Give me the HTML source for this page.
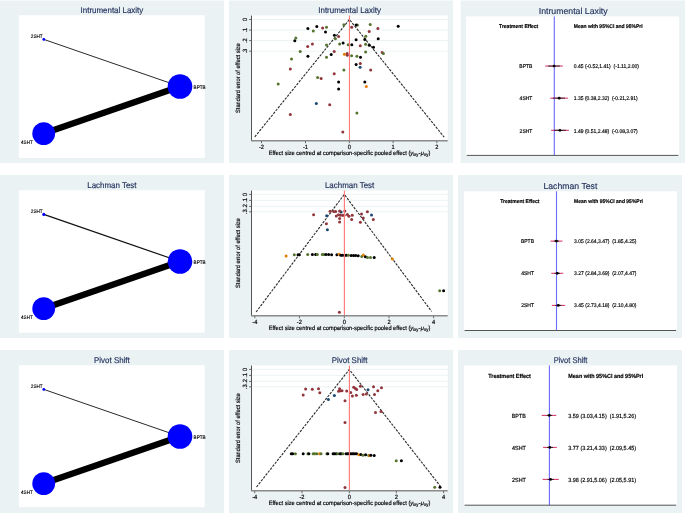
<!DOCTYPE html><html><head><meta charset="utf-8"><style>html,body{margin:0;padding:0;background:#fff;}svg{display:block;}svg{will-change:transform;}text{text-rendering:geometricPrecision;}text{font-family:"Liberation Sans",sans-serif;}</style></head><body>
<svg width="685" height="513" viewBox="0 0 685 513">
<rect width="685" height="513" fill="#fff"/>
<rect x="0" y="0.5" width="224" height="162.5" fill="#eaf2f3"/>
<rect x="18.9" y="15.2" width="185.8" height="142.8" fill="#fff"/>
<text transform="translate(111.9 12.9) scale(1 1.05)" font-size="7.95" text-anchor="middle" fill="#25335f" stroke="#25335f" stroke-width="0.15">Intrumental Laxity</text>
<line x1="43.8" y1="39.4" x2="180" y2="86.5" stroke="#111" stroke-width="0.9"/>
<line x1="43.7" y1="133.6" x2="180" y2="86.5" stroke="#000" stroke-width="6.3"/>
<circle cx="180" cy="86.5" r="12.3" fill="#0000ff"/>
<circle cx="43.7" cy="133.6" r="11.4" fill="#0000ff"/>
<circle cx="43.8" cy="39.4" r="1.4" fill="#0000ff"/>
<text transform="translate(42.6 37.8) scale(1 1.08)" font-size="4.6" text-anchor="end" fill="#000" stroke="#000" stroke-width="0.13">2SHT</text>
<text transform="translate(193.6 88.6) scale(1 1.08)" font-size="4.6" fill="#000" stroke="#000" stroke-width="0.13">BPTB</text>
<text transform="translate(32.8 143.7) scale(1 1.08)" font-size="4.6" text-anchor="end" fill="#000" stroke="#000" stroke-width="0.13">4SHT</text>
<rect x="0" y="175" width="224" height="163" fill="#eaf2f3"/>
<rect x="18.9" y="190.2" width="185.8" height="142.5" fill="#fff"/>
<text transform="translate(111.9 187.9) scale(1 1.05)" font-size="7.95" text-anchor="middle" fill="#25335f" stroke="#25335f" stroke-width="0.15">Lachman Test</text>
<line x1="43.8" y1="214.4" x2="180" y2="261.5" stroke="#111" stroke-width="1.2"/>
<line x1="43.7" y1="308.6" x2="180" y2="261.5" stroke="#000" stroke-width="6.3"/>
<circle cx="180" cy="261.5" r="12.3" fill="#0000ff"/>
<circle cx="43.7" cy="308.6" r="11.4" fill="#0000ff"/>
<circle cx="43.8" cy="214.4" r="1.55" fill="#0000ff"/>
<text transform="translate(42.6 212.8) scale(1 1.08)" font-size="4.6" text-anchor="end" fill="#000" stroke="#000" stroke-width="0.13">2SHT</text>
<text transform="translate(193.6 263.6) scale(1 1.08)" font-size="4.6" fill="#000" stroke="#000" stroke-width="0.13">BPTB</text>
<text transform="translate(32.8 318.7) scale(1 1.08)" font-size="4.6" text-anchor="end" fill="#000" stroke="#000" stroke-width="0.13">4SHT</text>
<rect x="0" y="350" width="224" height="163" fill="#eaf2f3"/>
<rect x="18.9" y="365.2" width="185.8" height="142.0" fill="#fff"/>
<text transform="translate(111.9 362.9) scale(1 1.05)" font-size="7.95" text-anchor="middle" fill="#25335f" stroke="#25335f" stroke-width="0.15">Pivot Shift</text>
<line x1="43.8" y1="389.4" x2="180" y2="436.5" stroke="#111" stroke-width="0.9"/>
<line x1="43.7" y1="483.6" x2="180" y2="436.5" stroke="#000" stroke-width="6.3"/>
<circle cx="180" cy="436.5" r="12.3" fill="#0000ff"/>
<circle cx="43.7" cy="483.6" r="11.4" fill="#0000ff"/>
<circle cx="43.8" cy="389.4" r="1.4" fill="#0000ff"/>
<text transform="translate(42.6 387.8) scale(1 1.08)" font-size="4.6" text-anchor="end" fill="#000" stroke="#000" stroke-width="0.13">2SHT</text>
<text transform="translate(193.6 438.6) scale(1 1.08)" font-size="4.6" fill="#000" stroke="#000" stroke-width="0.13">BPTB</text>
<text transform="translate(32.8 493.7) scale(1 1.08)" font-size="4.6" text-anchor="end" fill="#000" stroke="#000" stroke-width="0.13">4SHT</text>
<rect x="229" y="0.5" width="224" height="162.5" fill="#eaf2f3"/>
<rect x="251.5" y="15.4" width="196.2" height="125.1" fill="#fff"/>
<text transform="translate(349.6 12.9) scale(1 1.05)" font-size="7.95" text-anchor="middle" fill="#25335f" stroke="#25335f" stroke-width="0.15">Intrumental Laxity</text>
<line x1="252" y1="19.5" x2="447.7" y2="19.5" stroke="#eaf2f3" stroke-width="0.9"/>
<line x1="252" y1="30.1" x2="447.7" y2="30.1" stroke="#eaf2f3" stroke-width="0.9"/>
<line x1="252" y1="40.6" x2="447.7" y2="40.6" stroke="#eaf2f3" stroke-width="0.9"/>
<line x1="252" y1="51.2" x2="447.7" y2="51.2" stroke="#eaf2f3" stroke-width="0.9"/>
<polyline points="254.8,136.9 349.4,19.5 444.2,137.2" fill="none" stroke="#2a2a2a" stroke-width="1.1" stroke-dasharray="2.5 1.2"/>
<circle cx="307.9" cy="28.4" r="1.5" fill="#000000"/>
<circle cx="316.8" cy="26.6" r="1.5" fill="#000000"/>
<circle cx="322.6" cy="27.9" r="1.5" fill="#90353b"/>
<circle cx="326.5" cy="27.3" r="1.5" fill="#55752f"/>
<circle cx="313.3" cy="31.1" r="1.5" fill="#55752f"/>
<circle cx="325.5" cy="32.0" r="1.5" fill="#000000"/>
<circle cx="343.9" cy="24.8" r="1.5" fill="#55752f"/>
<circle cx="351.7" cy="27.3" r="1.5" fill="#90353b"/>
<circle cx="295.8" cy="38.0" r="1.5" fill="#55752f"/>
<circle cx="294.8" cy="40.8" r="1.5" fill="#000000"/>
<circle cx="334.4" cy="35.2" r="1.5" fill="#000000"/>
<circle cx="338.6" cy="36.5" r="1.5" fill="#90353b"/>
<circle cx="335.4" cy="38.8" r="1.5" fill="#55752f"/>
<circle cx="312.4" cy="44.0" r="1.5" fill="#90353b"/>
<circle cx="307.7" cy="46.5" r="1.5" fill="#90353b"/>
<circle cx="326.5" cy="44.9" r="1.5" fill="#55752f"/>
<circle cx="343.1" cy="42.9" r="1.5" fill="#000000"/>
<circle cx="339.6" cy="44.0" r="1.5" fill="#55752f"/>
<circle cx="348.2" cy="44.7" r="1.5" fill="#55752f"/>
<circle cx="351.8" cy="44.7" r="1.5" fill="#000000"/>
<circle cx="300.2" cy="51.4" r="1.5" fill="#55752f"/>
<circle cx="334.2" cy="51.6" r="1.5" fill="#90353b"/>
<circle cx="307.9" cy="56.3" r="1.5" fill="#000000"/>
<circle cx="331.2" cy="54.4" r="1.5" fill="#000000"/>
<circle cx="326.5" cy="57.2" r="1.5" fill="#55752f"/>
<circle cx="344.4" cy="54.3" r="1.5" fill="#e37e00"/>
<circle cx="347.2" cy="53.5" r="1.5" fill="#90353b"/>
<circle cx="347.3" cy="55.3" r="1.5" fill="#90353b"/>
<circle cx="351.6" cy="55.7" r="1.5" fill="#55752f"/>
<circle cx="291.5" cy="59.1" r="1.5" fill="#55752f"/>
<circle cx="290.3" cy="69.0" r="1.5" fill="#90353b"/>
<circle cx="343.9" cy="70.1" r="1.5" fill="#55752f"/>
<circle cx="334.2" cy="73.7" r="1.5" fill="#90353b"/>
<circle cx="317.6" cy="77.4" r="1.5" fill="#55752f"/>
<circle cx="321.1" cy="78.4" r="1.5" fill="#90353b"/>
<circle cx="338.6" cy="81.9" r="1.5" fill="#000000"/>
<circle cx="338.6" cy="88.9" r="1.5" fill="#000000"/>
<circle cx="278.2" cy="84.1" r="1.5" fill="#55752f"/>
<circle cx="357.4" cy="24.9" r="1.5" fill="#55752f"/>
<circle cx="356.1" cy="24.9" r="1.5" fill="#000000"/>
<circle cx="370.2" cy="24.6" r="1.5" fill="#55752f"/>
<circle cx="377.9" cy="28.4" r="1.5" fill="#90353b"/>
<circle cx="398.2" cy="26.3" r="1.5" fill="#000000"/>
<circle cx="369.2" cy="31.5" r="1.5" fill="#90353b"/>
<circle cx="365.8" cy="36.3" r="1.5" fill="#55752f"/>
<circle cx="356.1" cy="39.7" r="1.5" fill="#000000"/>
<circle cx="364.8" cy="39.5" r="1.5" fill="#000000"/>
<circle cx="378.2" cy="38.7" r="1.5" fill="#000000"/>
<circle cx="360.3" cy="45.7" r="1.5" fill="#90353b"/>
<circle cx="365.6" cy="44.2" r="1.5" fill="#55752f"/>
<circle cx="369.3" cy="45.2" r="1.5" fill="#000000"/>
<circle cx="373.5" cy="47.2" r="1.5" fill="#000000"/>
<circle cx="365.6" cy="52.1" r="1.5" fill="#55752f"/>
<circle cx="382.2" cy="52.6" r="1.5" fill="#90353b"/>
<circle cx="383.4" cy="53.6" r="1.5" fill="#55752f"/>
<circle cx="356.9" cy="56.3" r="1.5" fill="#55752f"/>
<circle cx="360.5" cy="57.3" r="1.5" fill="#000000"/>
<circle cx="356.1" cy="64.5" r="1.5" fill="#000000"/>
<circle cx="360.3" cy="63.5" r="1.5" fill="#90353b"/>
<circle cx="360.1" cy="67.3" r="1.5" fill="#1a476f"/>
<circle cx="370.7" cy="70.0" r="1.5" fill="#90353b"/>
<circle cx="364.8" cy="81.9" r="1.5" fill="#000000"/>
<circle cx="366.3" cy="86.4" r="1.5" fill="#e37e00"/>
<circle cx="316.3" cy="103.5" r="1.5" fill="#1a476f"/>
<circle cx="329.7" cy="104.8" r="1.5" fill="#90353b"/>
<circle cx="290.3" cy="114.5" r="1.5" fill="#90353b"/>
<circle cx="342.8" cy="132.0" r="1.5" fill="#90353b"/>
<circle cx="356.9" cy="112.9" r="1.5" fill="#55752f"/>
<line x1="349.45" y1="15.5" x2="349.45" y2="140.3" stroke="#ff7a7a" stroke-width="1.15"/>
<line x1="251.5" y1="15.6" x2="251.5" y2="141" stroke="#555" stroke-width="1"/>
<line x1="251" y1="140.7" x2="447.7" y2="140.7" stroke="#8a8a8a" stroke-width="1.4"/>
<line x1="249.2" y1="19.5" x2="251.5" y2="19.5" stroke="#555" stroke-width="0.9"/>
<text transform="translate(246.5 19.5) rotate(-90) scale(1 1.08)" font-size="5.7" text-anchor="middle" fill="#000" stroke="#000" stroke-width="0.16">0</text>
<line x1="249.2" y1="30.1" x2="251.5" y2="30.1" stroke="#555" stroke-width="0.9"/>
<text transform="translate(246.5 30.1) rotate(-90) scale(1 1.08)" font-size="5.7" text-anchor="middle" fill="#000" stroke="#000" stroke-width="0.16">.1</text>
<line x1="249.2" y1="40.6" x2="251.5" y2="40.6" stroke="#555" stroke-width="0.9"/>
<text transform="translate(246.5 40.6) rotate(-90) scale(1 1.08)" font-size="5.7" text-anchor="middle" fill="#000" stroke="#000" stroke-width="0.16">.2</text>
<line x1="249.2" y1="51.2" x2="251.5" y2="51.2" stroke="#555" stroke-width="0.9"/>
<text transform="translate(246.5 51.2) rotate(-90) scale(1 1.08)" font-size="5.7" text-anchor="middle" fill="#000" stroke="#000" stroke-width="0.16">.3</text>
<line x1="261.5" y1="141.2" x2="261.5" y2="143.2" stroke="#555" stroke-width="0.9"/>
<text transform="translate(261.5 148.7) scale(1 1.08)" font-size="5.7" text-anchor="middle" fill="#000" stroke="#000" stroke-width="0.16">-2</text>
<line x1="305.5" y1="141.2" x2="305.5" y2="143.2" stroke="#555" stroke-width="0.9"/>
<text transform="translate(305.5 148.7) scale(1 1.08)" font-size="5.7" text-anchor="middle" fill="#000" stroke="#000" stroke-width="0.16">-1</text>
<line x1="349.3" y1="141.2" x2="349.3" y2="143.2" stroke="#555" stroke-width="0.9"/>
<text transform="translate(349.3 148.7) scale(1 1.08)" font-size="5.7" text-anchor="middle" fill="#000" stroke="#000" stroke-width="0.16">0</text>
<line x1="393.1" y1="141.2" x2="393.1" y2="143.2" stroke="#555" stroke-width="0.9"/>
<text transform="translate(393.1 148.7) scale(1 1.08)" font-size="5.7" text-anchor="middle" fill="#000" stroke="#000" stroke-width="0.16">1</text>
<line x1="436.8" y1="141.2" x2="436.8" y2="143.2" stroke="#555" stroke-width="0.9"/>
<text transform="translate(436.8 148.7) scale(1 1.08)" font-size="5.7" text-anchor="middle" fill="#000" stroke="#000" stroke-width="0.16">2</text>
<text transform="translate(240.1 78.1) rotate(-90) scale(1 1.08)" font-size="5.67" text-anchor="middle" fill="#000" stroke="#000" stroke-width="0.16">Standard error of effect size</text>
<text transform="translate(268.7 154.8) scale(1 1.08)" font-size="5.67" fill="#000" stroke="#000" stroke-width="0.16">Effect size centred at comparison-specific pooled effect (<tspan font-style="italic">y</tspan><tspan font-size="4.3" dy="1.1">ixy</tspan><tspan dy="-1.1" dx="0.3">-</tspan><tspan font-style="italic" dx="0.3">&#956;</tspan><tspan font-size="4.3" dy="1.1">xy</tspan><tspan dy="-1.1" dx="0.3">)</tspan></text>
<rect x="229" y="175" width="224" height="163" fill="#eaf2f3"/>
<rect x="251.5" y="190.4" width="196.2" height="125.1" fill="#fff"/>
<text transform="translate(349.6 187.9) scale(1 1.05)" font-size="7.95" text-anchor="middle" fill="#25335f" stroke="#25335f" stroke-width="0.15">Lachman Test</text>
<line x1="252" y1="194.4" x2="447.7" y2="194.4" stroke="#eaf2f3" stroke-width="0.9"/>
<line x1="252" y1="200.4" x2="447.7" y2="200.4" stroke="#eaf2f3" stroke-width="0.9"/>
<line x1="252" y1="206.4" x2="447.7" y2="206.4" stroke="#eaf2f3" stroke-width="0.9"/>
<line x1="252" y1="211.8" x2="447.7" y2="211.8" stroke="#eaf2f3" stroke-width="0.9"/>
<polyline points="256.1,312.0 344.3,194.4 431.6,311.4" fill="none" stroke="#2a2a2a" stroke-width="1.1" stroke-dasharray="2.5 1.2"/>
<circle cx="341.1" cy="211.9" r="1.5" fill="#1a476f"/>
<circle cx="313.6" cy="214.8" r="1.5" fill="#90353b"/>
<circle cx="326.4" cy="223.7" r="1.5" fill="#90353b"/>
<circle cx="330.1" cy="211.3" r="1.5" fill="#90353b"/>
<circle cx="333.6" cy="211.5" r="1.5" fill="#90353b"/>
<circle cx="335.6" cy="211.5" r="1.5" fill="#90353b"/>
<circle cx="339.6" cy="211.1" r="1.5" fill="#90353b"/>
<circle cx="344.8" cy="211" r="1.5" fill="#90353b"/>
<circle cx="336.3" cy="215.9" r="1.5" fill="#90353b"/>
<circle cx="338.5" cy="214.8" r="1.5" fill="#90353b"/>
<circle cx="340.4" cy="215.2" r="1.5" fill="#90353b"/>
<circle cx="342.6" cy="215.2" r="1.5" fill="#90353b"/>
<circle cx="344.1" cy="215.2" r="1.5" fill="#90353b"/>
<circle cx="347.4" cy="214.5" r="1.5" fill="#90353b"/>
<circle cx="348.9" cy="216.3" r="1.5" fill="#90353b"/>
<circle cx="339.6" cy="218.5" r="1.5" fill="#90353b"/>
<circle cx="339.6" cy="221.9" r="1.5" fill="#90353b"/>
<circle cx="352.2" cy="215.3" r="1.5" fill="#90353b"/>
<circle cx="351.7" cy="219.6" r="1.5" fill="#90353b"/>
<circle cx="361.5" cy="214.1" r="1.5" fill="#90353b"/>
<circle cx="363.3" cy="218.1" r="1.5" fill="#90353b"/>
<circle cx="360.4" cy="222.2" r="1.5" fill="#90353b"/>
<circle cx="367.4" cy="211.7" r="1.5" fill="#90353b"/>
<circle cx="373.3" cy="219.6" r="1.5" fill="#90353b"/>
<circle cx="339.4" cy="312.2" r="1.5" fill="#90353b"/>
<circle cx="326.7" cy="215.7" r="1.5" fill="#1a476f"/>
<circle cx="327.4" cy="229.8" r="1.5" fill="#1a476f"/>
<circle cx="371.5" cy="215" r="1.5" fill="#1a476f"/>
<circle cx="286.1" cy="255.9" r="1.5" fill="#e37e00"/>
<circle cx="294.3" cy="254.7" r="1.5" fill="#55752f"/>
<circle cx="298" cy="254.7" r="1.5" fill="#000000"/>
<circle cx="299.4" cy="254.7" r="1.5" fill="#000000"/>
<circle cx="307.7" cy="254.4" r="1.5" fill="#55752f"/>
<circle cx="312.4" cy="254.4" r="1.5" fill="#000000"/>
<circle cx="315.6" cy="254.4" r="1.5" fill="#000000"/>
<circle cx="317.3" cy="254.4" r="1.5" fill="#55752f"/>
<circle cx="322.3" cy="254.6" r="1.5" fill="#55752f"/>
<circle cx="323.8" cy="254.6" r="1.5" fill="#55752f"/>
<circle cx="325.9" cy="254.6" r="1.5" fill="#000000"/>
<circle cx="328.6" cy="254.6" r="1.5" fill="#000000"/>
<circle cx="331.6" cy="254.7" r="1.5" fill="#000000"/>
<circle cx="336.9" cy="254.8" r="1.5" fill="#000000"/>
<circle cx="339.3" cy="254.3" r="1.5" fill="#e37e00"/>
<circle cx="340.8" cy="255.2" r="1.5" fill="#000000"/>
<circle cx="342.5" cy="255.2" r="1.5" fill="#000000"/>
<circle cx="344.6" cy="255.2" r="1.5" fill="#000000"/>
<circle cx="346.3" cy="255.3" r="1.5" fill="#000000"/>
<circle cx="348.4" cy="255.3" r="1.5" fill="#55752f"/>
<circle cx="351.2" cy="255.4" r="1.5" fill="#000000"/>
<circle cx="353.5" cy="255.5" r="1.5" fill="#000000"/>
<circle cx="355.6" cy="255.6" r="1.5" fill="#000000"/>
<circle cx="358.2" cy="255.7" r="1.5" fill="#000000"/>
<circle cx="361.8" cy="256.6" r="1.5" fill="#55752f"/>
<circle cx="363.4" cy="255.1" r="1.5" fill="#e37e00"/>
<circle cx="365.4" cy="256.8" r="1.5" fill="#000000"/>
<circle cx="367.5" cy="257.4" r="1.5" fill="#55752f"/>
<circle cx="370.5" cy="257.6" r="1.5" fill="#55752f"/>
<circle cx="374.2" cy="257.6" r="1.5" fill="#000000"/>
<circle cx="392.4" cy="258.9" r="1.5" fill="#e37e00"/>
<circle cx="439.7" cy="290.7" r="1.5" fill="#55752f"/>
<circle cx="443.6" cy="290.7" r="1.5" fill="#000000"/>
<line x1="344.4" y1="190.5" x2="344.4" y2="315.3" stroke="#ff7a7a" stroke-width="1.15"/>
<line x1="251.5" y1="190.6" x2="251.5" y2="316" stroke="#555" stroke-width="1"/>
<line x1="251" y1="315.7" x2="447.7" y2="315.7" stroke="#8a8a8a" stroke-width="1.4"/>
<line x1="249.2" y1="194.4" x2="251.5" y2="194.4" stroke="#555" stroke-width="0.9"/>
<text transform="translate(246.5 194.4) rotate(-90) scale(1 1.08)" font-size="5.7" text-anchor="middle" fill="#000" stroke="#000" stroke-width="0.16">0</text>
<line x1="249.2" y1="200.4" x2="251.5" y2="200.4" stroke="#555" stroke-width="0.9"/>
<text transform="translate(246.5 200.4) rotate(-90) scale(1 1.08)" font-size="5.7" text-anchor="middle" fill="#000" stroke="#000" stroke-width="0.16">.1</text>
<line x1="249.2" y1="206.4" x2="251.5" y2="206.4" stroke="#555" stroke-width="0.9"/>
<text transform="translate(246.5 206.4) rotate(-90) scale(1 1.08)" font-size="5.7" text-anchor="middle" fill="#000" stroke="#000" stroke-width="0.16">.2</text>
<line x1="249.2" y1="211.8" x2="251.5" y2="211.8" stroke="#555" stroke-width="0.9"/>
<text transform="translate(246.5 211.8) rotate(-90) scale(1 1.08)" font-size="5.7" text-anchor="middle" fill="#000" stroke="#000" stroke-width="0.16">.3</text>
<line x1="254.8" y1="316.2" x2="254.8" y2="318.2" stroke="#555" stroke-width="0.9"/>
<text transform="translate(254.8 323.7) scale(1 1.08)" font-size="5.7" text-anchor="middle" fill="#000" stroke="#000" stroke-width="0.16">-4</text>
<line x1="299.4" y1="316.2" x2="299.4" y2="318.2" stroke="#555" stroke-width="0.9"/>
<text transform="translate(299.4 323.7) scale(1 1.08)" font-size="5.7" text-anchor="middle" fill="#000" stroke="#000" stroke-width="0.16">-2</text>
<line x1="344.3" y1="316.2" x2="344.3" y2="318.2" stroke="#555" stroke-width="0.9"/>
<text transform="translate(344.3 323.7) scale(1 1.08)" font-size="5.7" text-anchor="middle" fill="#000" stroke="#000" stroke-width="0.16">0</text>
<line x1="389.0" y1="316.2" x2="389.0" y2="318.2" stroke="#555" stroke-width="0.9"/>
<text transform="translate(389.0 323.7) scale(1 1.08)" font-size="5.7" text-anchor="middle" fill="#000" stroke="#000" stroke-width="0.16">2</text>
<line x1="433.6" y1="316.2" x2="433.6" y2="318.2" stroke="#555" stroke-width="0.9"/>
<text transform="translate(433.6 323.7) scale(1 1.08)" font-size="5.7" text-anchor="middle" fill="#000" stroke="#000" stroke-width="0.16">4</text>
<text transform="translate(240.1 253.1) rotate(-90) scale(1 1.08)" font-size="5.67" text-anchor="middle" fill="#000" stroke="#000" stroke-width="0.16">Standard error of effect size</text>
<text transform="translate(268.7 329.8) scale(1 1.08)" font-size="5.67" fill="#000" stroke="#000" stroke-width="0.16">Effect size centred at comparison-specific pooled effect (<tspan font-style="italic">y</tspan><tspan font-size="4.3" dy="1.1">ixy</tspan><tspan dy="-1.1" dx="0.3">-</tspan><tspan font-style="italic" dx="0.3">&#956;</tspan><tspan font-size="4.3" dy="1.1">xy</tspan><tspan dy="-1.1" dx="0.3">)</tspan></text>
<rect x="229" y="350" width="224" height="163" fill="#eaf2f3"/>
<rect x="251.5" y="365.4" width="196.2" height="125.1" fill="#fff"/>
<text transform="translate(349.6 362.9) scale(1 1.05)" font-size="7.95" text-anchor="middle" fill="#25335f" stroke="#25335f" stroke-width="0.15">Pivot Shift</text>
<line x1="252" y1="369.4" x2="447.7" y2="369.4" stroke="#eaf2f3" stroke-width="0.9"/>
<line x1="252" y1="375.4" x2="447.7" y2="375.4" stroke="#eaf2f3" stroke-width="0.9"/>
<line x1="252" y1="381.4" x2="447.7" y2="381.4" stroke="#eaf2f3" stroke-width="0.9"/>
<line x1="252" y1="386.8" x2="447.7" y2="386.8" stroke="#eaf2f3" stroke-width="0.9"/>
<polyline points="256.5,487.0 349.3,369.5 440.2,486.0" fill="none" stroke="#2a2a2a" stroke-width="1.1" stroke-dasharray="2.5 1.2"/>
<circle cx="305.6" cy="389" r="1.5" fill="#90353b"/>
<circle cx="312.3" cy="389.3" r="1.5" fill="#90353b"/>
<circle cx="318.5" cy="388.8" r="1.5" fill="#90353b"/>
<circle cx="319.8" cy="392.7" r="1.5" fill="#90353b"/>
<circle cx="303.2" cy="394.9" r="1.5" fill="#90353b"/>
<circle cx="339.6" cy="388.8" r="1.5" fill="#90353b"/>
<circle cx="338.6" cy="391.2" r="1.5" fill="#90353b"/>
<circle cx="340.3" cy="390.7" r="1.5" fill="#90353b"/>
<circle cx="342" cy="390.7" r="1.5" fill="#90353b"/>
<circle cx="346.7" cy="391" r="1.5" fill="#90353b"/>
<circle cx="350.7" cy="392.4" r="1.5" fill="#90353b"/>
<circle cx="353.7" cy="387.2" r="1.5" fill="#90353b"/>
<circle cx="355.4" cy="388.5" r="1.5" fill="#90353b"/>
<circle cx="356.7" cy="389.5" r="1.5" fill="#90353b"/>
<circle cx="360.4" cy="386.3" r="1.5" fill="#90353b"/>
<circle cx="352.4" cy="396" r="1.5" fill="#90353b"/>
<circle cx="356.4" cy="395.2" r="1.5" fill="#90353b"/>
<circle cx="363.1" cy="394.4" r="1.5" fill="#90353b"/>
<circle cx="366.4" cy="394" r="1.5" fill="#90353b"/>
<circle cx="345" cy="400.7" r="1.5" fill="#90353b"/>
<circle cx="373.5" cy="386.8" r="1.5" fill="#90353b"/>
<circle cx="377.8" cy="390.8" r="1.5" fill="#90353b"/>
<circle cx="381.5" cy="387.7" r="1.5" fill="#90353b"/>
<circle cx="374.5" cy="394.4" r="1.5" fill="#90353b"/>
<circle cx="375.5" cy="412.5" r="1.5" fill="#90353b"/>
<circle cx="381" cy="411.5" r="1.5" fill="#90353b"/>
<circle cx="345" cy="422.5" r="1.5" fill="#90353b"/>
<circle cx="345" cy="487.4" r="1.5" fill="#90353b"/>
<circle cx="328.4" cy="399.4" r="1.5" fill="#1a476f"/>
<circle cx="334.4" cy="395.4" r="1.5" fill="#1a476f"/>
<circle cx="368" cy="389.8" r="1.5" fill="#1a476f"/>
<circle cx="291.3" cy="453.8" r="1.5" fill="#000000"/>
<circle cx="292.7" cy="453.8" r="1.5" fill="#000000"/>
<circle cx="295.4" cy="453.8" r="1.5" fill="#55752f"/>
<circle cx="303.2" cy="453.8" r="1.5" fill="#000000"/>
<circle cx="307.9" cy="453.8" r="1.5" fill="#55752f"/>
<circle cx="308.9" cy="453.8" r="1.5" fill="#000000"/>
<circle cx="313.2" cy="453.8" r="1.5" fill="#55752f"/>
<circle cx="314.8" cy="453.8" r="1.5" fill="#55752f"/>
<circle cx="316.8" cy="453.8" r="1.5" fill="#55752f"/>
<circle cx="319.6" cy="453.8" r="1.5" fill="#e37e00"/>
<circle cx="321" cy="453.8" r="1.5" fill="#55752f"/>
<circle cx="326.9" cy="453.8" r="1.5" fill="#55752f"/>
<circle cx="327.8" cy="453.8" r="1.5" fill="#000000"/>
<circle cx="333.1" cy="453.8" r="1.5" fill="#000000"/>
<circle cx="334.4" cy="453.8" r="1.5" fill="#000000"/>
<circle cx="336.1" cy="453.8" r="1.5" fill="#000000"/>
<circle cx="337.8" cy="453.8" r="1.5" fill="#55752f"/>
<circle cx="340" cy="453.8" r="1.5" fill="#000000"/>
<circle cx="341.1" cy="453.8" r="1.5" fill="#000000"/>
<circle cx="343" cy="453.8" r="1.5" fill="#55752f"/>
<circle cx="346.1" cy="453.8" r="1.5" fill="#000000"/>
<circle cx="347.6" cy="453.8" r="1.5" fill="#000000"/>
<circle cx="349" cy="453.8" r="1.5" fill="#000000"/>
<circle cx="350.5" cy="453.8" r="1.5" fill="#000000"/>
<circle cx="352" cy="453.8" r="1.5" fill="#000000"/>
<circle cx="353.5" cy="453.8" r="1.5" fill="#000000"/>
<circle cx="355" cy="453.8" r="1.5" fill="#000000"/>
<circle cx="356.6" cy="453.8" r="1.5" fill="#000000"/>
<circle cx="358.9" cy="454.7" r="1.5" fill="#e37e00"/>
<circle cx="360.9" cy="454.4" r="1.5" fill="#000000"/>
<circle cx="363" cy="455.2" r="1.5" fill="#55752f"/>
<circle cx="365.6" cy="454.8" r="1.5" fill="#000000"/>
<circle cx="368.7" cy="455.6" r="1.5" fill="#55752f"/>
<circle cx="369.7" cy="455.6" r="1.5" fill="#e37e00"/>
<circle cx="370.9" cy="455.3" r="1.5" fill="#000000"/>
<circle cx="374.2" cy="455.6" r="1.5" fill="#000000"/>
<circle cx="396.2" cy="460.7" r="1.5" fill="#55752f"/>
<circle cx="401.4" cy="460.7" r="1.5" fill="#000000"/>
<circle cx="434.7" cy="487.3" r="1.5" fill="#55752f"/>
<circle cx="440" cy="487.3" r="1.5" fill="#000000"/>
<line x1="349.4" y1="365.5" x2="349.4" y2="490.3" stroke="#ff7a7a" stroke-width="1.15"/>
<line x1="251.5" y1="365.6" x2="251.5" y2="491" stroke="#555" stroke-width="1"/>
<line x1="251" y1="490.7" x2="447.7" y2="490.7" stroke="#8a8a8a" stroke-width="1.4"/>
<line x1="249.2" y1="369.4" x2="251.5" y2="369.4" stroke="#555" stroke-width="0.9"/>
<text transform="translate(246.5 369.4) rotate(-90) scale(1 1.08)" font-size="5.7" text-anchor="middle" fill="#000" stroke="#000" stroke-width="0.16">0</text>
<line x1="249.2" y1="375.4" x2="251.5" y2="375.4" stroke="#555" stroke-width="0.9"/>
<text transform="translate(246.5 375.4) rotate(-90) scale(1 1.08)" font-size="5.7" text-anchor="middle" fill="#000" stroke="#000" stroke-width="0.16">.1</text>
<line x1="249.2" y1="381.4" x2="251.5" y2="381.4" stroke="#555" stroke-width="0.9"/>
<text transform="translate(246.5 381.4) rotate(-90) scale(1 1.08)" font-size="5.7" text-anchor="middle" fill="#000" stroke="#000" stroke-width="0.16">.2</text>
<line x1="249.2" y1="386.8" x2="251.5" y2="386.8" stroke="#555" stroke-width="0.9"/>
<text transform="translate(246.5 386.8) rotate(-90) scale(1 1.08)" font-size="5.7" text-anchor="middle" fill="#000" stroke="#000" stroke-width="0.16">.3</text>
<line x1="254.7" y1="491.2" x2="254.7" y2="493.2" stroke="#555" stroke-width="0.9"/>
<text transform="translate(254.7 498.7) scale(1 1.08)" font-size="5.7" text-anchor="middle" fill="#000" stroke="#000" stroke-width="0.16">-4</text>
<line x1="302.0" y1="491.2" x2="302.0" y2="493.2" stroke="#555" stroke-width="0.9"/>
<text transform="translate(302.0 498.7) scale(1 1.08)" font-size="5.7" text-anchor="middle" fill="#000" stroke="#000" stroke-width="0.16">-2</text>
<line x1="349.3" y1="491.2" x2="349.3" y2="493.2" stroke="#555" stroke-width="0.9"/>
<text transform="translate(349.3 498.7) scale(1 1.08)" font-size="5.7" text-anchor="middle" fill="#000" stroke="#000" stroke-width="0.16">0</text>
<line x1="396.3" y1="491.2" x2="396.3" y2="493.2" stroke="#555" stroke-width="0.9"/>
<text transform="translate(396.3 498.7) scale(1 1.08)" font-size="5.7" text-anchor="middle" fill="#000" stroke="#000" stroke-width="0.16">2</text>
<line x1="443.6" y1="491.2" x2="443.6" y2="493.2" stroke="#555" stroke-width="0.9"/>
<text transform="translate(443.6 498.7) scale(1 1.08)" font-size="5.7" text-anchor="middle" fill="#000" stroke="#000" stroke-width="0.16">4</text>
<text transform="translate(240.1 428.1) rotate(-90) scale(1 1.08)" font-size="5.67" text-anchor="middle" fill="#000" stroke="#000" stroke-width="0.16">Standard error of effect size</text>
<text transform="translate(268.7 504.8) scale(1 1.08)" font-size="5.67" fill="#000" stroke="#000" stroke-width="0.16">Effect size centred at comparison-specific pooled effect (<tspan font-style="italic">y</tspan><tspan font-size="4.3" dy="1.1">ixy</tspan><tspan dy="-1.1" dx="0.3">-</tspan><tspan font-style="italic" dx="0.3">&#956;</tspan><tspan font-size="4.3" dy="1.1">xy</tspan><tspan dy="-1.1" dx="0.3">)</tspan></text>
<rect x="460.7" y="0.5" width="224.3" height="162.5" fill="#eaf2f3"/>
<rect x="466.1" y="16.4" width="213.1" height="139.0" fill="#fff"/>
<text x="573.2" y="13.7" font-size="8.74" text-anchor="middle" fill="#25335f" stroke="#25335f" stroke-width="0.15">Intrumental Laxity</text>
<line x1="554.3" y1="16.4" x2="554.3" y2="155.4" stroke="#6a6aff" stroke-width="1.1"/>
<line x1="466.8" y1="155.4" x2="678.4000000000001" y2="155.4" stroke="#555" stroke-width="1"/>
<text transform="translate(499.1 28.0) scale(1 1.08)" font-size="5.0" font-weight="bold" fill="#000" stroke="#000" stroke-width="0.16">Treatment Effect</text>
<text transform="translate(573.8 28.0) scale(1 1.08)" font-size="5.0" font-weight="bold" fill="#000" stroke="#000" stroke-width="0.16">Mean with 95%CI and 95%PrI</text>
<line x1="545.2" y1="66.05" x2="562.8" y2="66.05" stroke="#d83468" stroke-width="1.05"/>
<line x1="548.1" y1="66.05" x2="560.0" y2="66.05" stroke="#141414" stroke-width="0.8"/>
<circle cx="554.1" cy="66.05" r="1.4" fill="#000"/>
<text transform="translate(532.4 68.25) scale(1 1.08)" font-size="5.0" text-anchor="end" fill="#000" stroke="#000" stroke-width="0.16">BPTB</text>
<text transform="translate(573.8 68.25) scale(1 1.08)" font-size="5.0" fill="#000" stroke="#000" stroke-width="0.16">0.45 (-0.52,1.41)&#160; (-1.11,2.00)</text>
<line x1="550.2" y1="98.15" x2="567.9" y2="98.15" stroke="#d83468" stroke-width="1.05"/>
<line x1="552.8" y1="98.15" x2="565.0" y2="98.15" stroke="#141414" stroke-width="0.8"/>
<circle cx="559.2" cy="98.15" r="1.4" fill="#000"/>
<text transform="translate(532.4 100.35000000000001) scale(1 1.08)" font-size="5.0" text-anchor="end" fill="#000" stroke="#000" stroke-width="0.16">4SHT</text>
<text transform="translate(573.8 100.35000000000001) scale(1 1.08)" font-size="5.0" fill="#000" stroke="#000" stroke-width="0.16">1.35 (0.38,2.32)&#160; (-0.21,2.91)</text>
<line x1="551.1" y1="130.3" x2="568.9" y2="130.3" stroke="#d83468" stroke-width="1.05"/>
<line x1="553.9" y1="130.3" x2="565.9" y2="130.3" stroke="#141414" stroke-width="0.8"/>
<circle cx="559.9" cy="130.3" r="1.4" fill="#000"/>
<text transform="translate(532.4 132.5) scale(1 1.08)" font-size="5.0" text-anchor="end" fill="#000" stroke="#000" stroke-width="0.16">2SHT</text>
<text transform="translate(573.8 132.5) scale(1 1.08)" font-size="5.0" fill="#000" stroke="#000" stroke-width="0.16">1.49 (0.51,2.48)&#160; (-0.08,3.07)</text>
<rect x="458.1" y="175" width="223.9" height="163" fill="#eaf2f3"/>
<rect x="463.9" y="191.3" width="213.1" height="139.2" fill="#fff"/>
<text x="570.4" y="188.7" font-size="8.69" text-anchor="middle" fill="#25335f" stroke="#25335f" stroke-width="0.15">Lachman Test</text>
<line x1="556.5" y1="191.3" x2="556.5" y2="330.5" stroke="#6a6aff" stroke-width="1.1"/>
<line x1="464.59999999999997" y1="330.5" x2="676.2" y2="330.5" stroke="#555" stroke-width="1"/>
<text transform="translate(500.3 202.9) scale(1 1.08)" font-size="5.0" font-weight="bold" fill="#000" stroke="#000" stroke-width="0.16">Treatment Effect</text>
<text transform="translate(574.1 202.9) scale(1 1.08)" font-size="5.0" font-weight="bold" fill="#000" stroke="#000" stroke-width="0.16">Mean with 95%CI and 95%PrI</text>
<line x1="550.4" y1="241.1" x2="562.5" y2="241.1" stroke="#d83468" stroke-width="1.05"/>
<line x1="553.8" y1="241.1" x2="559.1" y2="241.1" stroke="#141414" stroke-width="0.8"/>
<circle cx="556.4" cy="241.1" r="1.4" fill="#000"/>
<text transform="translate(534.0 243.1) scale(1 1.08)" font-size="5.0" text-anchor="end" fill="#000" stroke="#000" stroke-width="0.16">BPTB</text>
<text transform="translate(574.1 243.1) scale(1 1.08)" font-size="5.0" fill="#000" stroke="#000" stroke-width="0.16">3.05 (2.64,3.47)&#160; (1.85,4.25)</text>
<line x1="551.3" y1="273.3" x2="563.3" y2="273.3" stroke="#d83468" stroke-width="1.05"/>
<line x1="554.6" y1="273.3" x2="560.0" y2="273.3" stroke="#141414" stroke-width="0.8"/>
<circle cx="557.3" cy="273.3" r="1.4" fill="#000"/>
<text transform="translate(534.0 275.3) scale(1 1.08)" font-size="5.0" text-anchor="end" fill="#000" stroke="#000" stroke-width="0.16">4SHT</text>
<text transform="translate(574.1 275.3) scale(1 1.08)" font-size="5.0" fill="#000" stroke="#000" stroke-width="0.16">3.27 (2.84,3.69)&#160; (2.07,4.47)</text>
<line x1="551.8" y1="305.4" x2="565.2" y2="305.4" stroke="#d83468" stroke-width="1.05"/>
<line x1="555.4" y1="305.4" x2="561.6" y2="305.4" stroke="#141414" stroke-width="0.8"/>
<circle cx="558.3" cy="305.4" r="1.4" fill="#000"/>
<text transform="translate(534.0 307.4) scale(1 1.08)" font-size="5.0" text-anchor="end" fill="#000" stroke="#000" stroke-width="0.16">2SHT</text>
<text transform="translate(574.1 307.4) scale(1 1.08)" font-size="5.0" fill="#000" stroke="#000" stroke-width="0.16">3.45 (2.73,4.18)&#160; (2.10,4.80)</text>
<rect x="458.1" y="350" width="223.9" height="163" fill="#eaf2f3"/>
<rect x="463.9" y="365.4" width="213.1" height="139.8" fill="#fff"/>
<text transform="translate(570.5 362.7) scale(1 1.12)" font-size="7.5" text-anchor="middle" fill="#25335f" stroke="#25335f" stroke-width="0.15">Pivot Shift</text>
<line x1="549.4" y1="365.4" x2="549.4" y2="505.2" stroke="#6a6aff" stroke-width="1.1"/>
<line x1="464.59999999999997" y1="505.2" x2="676.2" y2="505.2" stroke="#555" stroke-width="1"/>
<text transform="translate(488.3 377.8) scale(1 1.08)" font-size="5.45" font-weight="bold" fill="#000" stroke="#000" stroke-width="0.16">Treatment Effect</text>
<text transform="translate(568.3 377.8) scale(1 1.08)" font-size="5.45" font-weight="bold" fill="#000" stroke="#000" stroke-width="0.16">Mean with 95%CI and 95%PrI</text>
<line x1="541.7" y1="415.4" x2="556.3" y2="415.4" stroke="#d83468" stroke-width="1.05"/>
<line x1="546.8" y1="415.4" x2="552.1" y2="415.4" stroke="#141414" stroke-width="0.8"/>
<circle cx="549.3" cy="415.4" r="1.4" fill="#000"/>
<text transform="translate(525.9 417.79999999999995) scale(1 1.08)" font-size="5.45" text-anchor="end" fill="#000" stroke="#000" stroke-width="0.16">BPTB</text>
<text transform="translate(568.3 417.79999999999995) scale(1 1.08)" font-size="5.45" fill="#000" stroke="#000" stroke-width="0.16">3.59 (3.03,4.15)&#160; (1.91,5.26)</text>
<line x1="543.1" y1="447.4" x2="556.8" y2="447.4" stroke="#d83468" stroke-width="1.05"/>
<line x1="547.1" y1="447.4" x2="553.0" y2="447.4" stroke="#141414" stroke-width="0.8"/>
<circle cx="549.8" cy="447.4" r="1.4" fill="#000"/>
<text transform="translate(525.9 449.79999999999995) scale(1 1.08)" font-size="5.45" text-anchor="end" fill="#000" stroke="#000" stroke-width="0.16">4SHT</text>
<text transform="translate(568.3 449.79999999999995) scale(1 1.08)" font-size="5.45" fill="#000" stroke="#000" stroke-width="0.16">3.77 (3.21,4.33)&#160; (2.09,5.45)</text>
<line x1="542.6" y1="479.4" x2="558.8" y2="479.4" stroke="#d83468" stroke-width="1.05"/>
<line x1="547.6" y1="479.4" x2="553.8" y2="479.4" stroke="#141414" stroke-width="0.8"/>
<circle cx="550.5" cy="479.4" r="1.4" fill="#000"/>
<text transform="translate(525.9 481.79999999999995) scale(1 1.08)" font-size="5.45" text-anchor="end" fill="#000" stroke="#000" stroke-width="0.16">2SHT</text>
<text transform="translate(568.3 481.79999999999995) scale(1 1.08)" font-size="5.45" fill="#000" stroke="#000" stroke-width="0.16">3.98 (2.91,5.06)&#160; (2.05,5.91)</text>
</svg></body></html>
